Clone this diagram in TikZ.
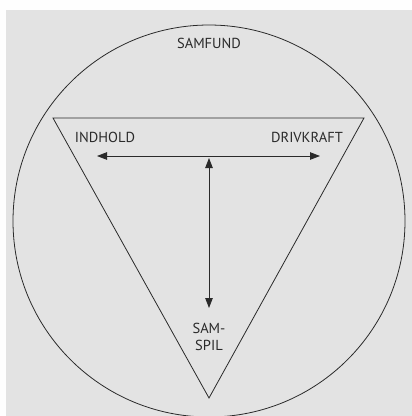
\documentclass[tikz,border=0pt]{standalone}
\usepackage{fontspec}
\setmainfont{PT Sans}
\usetikzlibrary{arrows.meta}
\definecolor{page}{HTML}{E3E3E3}
\definecolor{ink}{HTML}{2A2A2A}
\tikzset{
  shape line/.style={draw=ink, line width=0.8pt},
  twoarrow/.style={draw=ink, line width=0.9pt, {Triangle[length=10pt,width=7.5pt]}-{Triangle[length=10pt,width=7.5pt]}},
  label text/.style={text=ink, font=\fontsize{14.5}{16}\selectfont, inner sep=0pt, align=center}
}
\begin{document}
\begin{tikzpicture}[x=1pt,y=-1pt]
\useasboundingbox (0,0) rectangle (412,416);
\fill[white!96!page] (0,0) rectangle (412,416);
\fill[page] (6,10) rectangle (412,416);
% circle
\draw[shape line] (209,221) circle[radius=196];
% triangle
\coordinate (tl) at (53,118);
\coordinate (tr) at (364,118);
\coordinate (bt) at (209,398);
\draw[shape line, line join=miter] (tl) -- (tr) -- (bt) -- cycle;
% labels
\node[label text] (samfund) at (209,43) {SAMFUND};
\node[label text] (indhold) at (105,137) {INDHOLD};
\node[label text] (drivkraft) at (307,137) {DRIVKRAFT};
\node[label text] (samspil) at (209,337) {SAM-\\[1pt]SPIL};
% arrows
\coordinate (left) at (97,156);
\coordinate (right) at (320,156);
\coordinate (top) at (209,158);
\coordinate (bottom) at (209,308);
\draw[twoarrow] (left) -- (right);
\draw[twoarrow] (top) -- (bottom);
\end{tikzpicture}
\end{document}
